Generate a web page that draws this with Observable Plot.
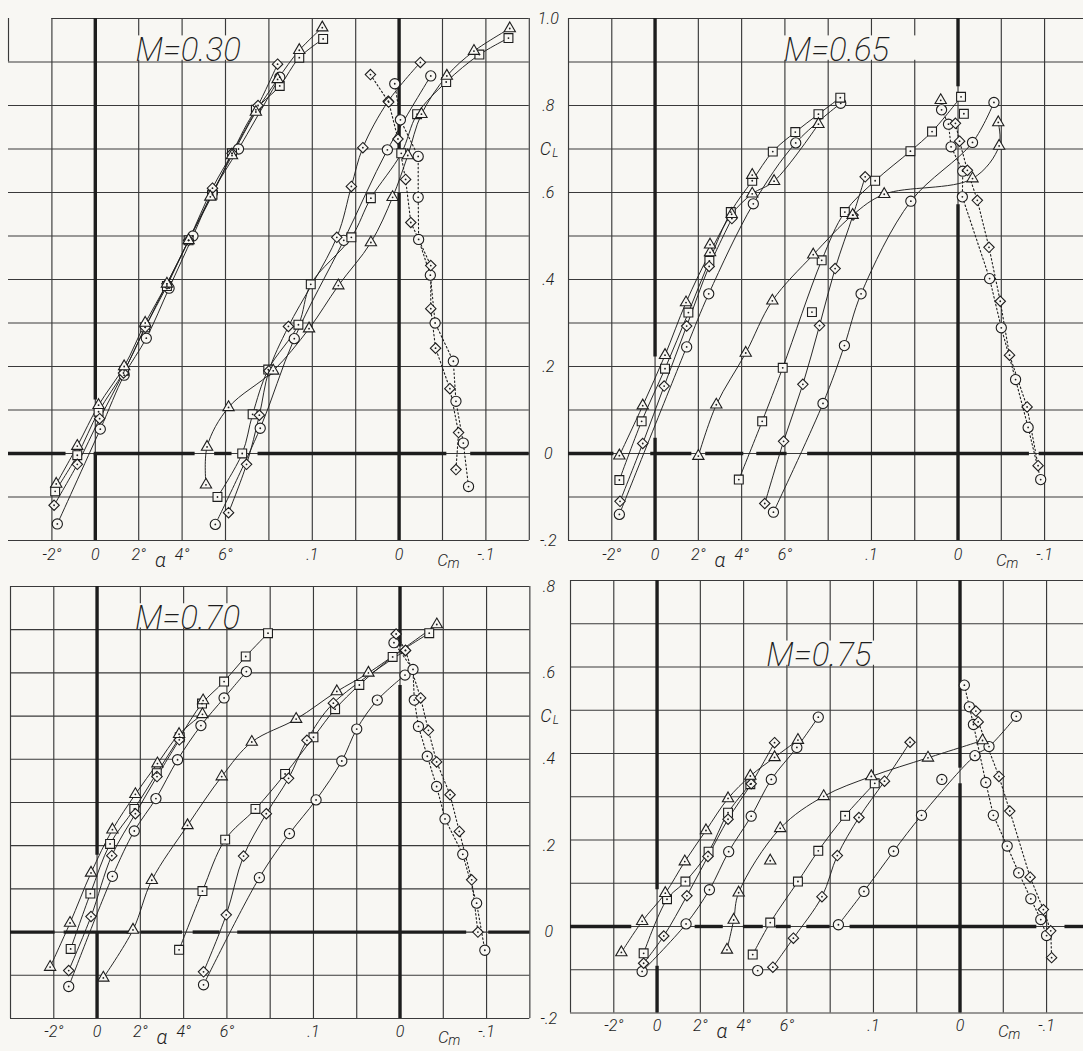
<!DOCTYPE html>
<html>
<head>
<meta charset="utf-8">
<script src="https://cdn.jsdelivr.net/npm/d3@7"></script>
<script src="https://cdn.jsdelivr.net/npm/@observablehq/plot@0.6"></script>
<style>
  html, body { margin: 0; padding: 0; background: #f8f7f3; }
  #page { position: relative; width: 1083px; height: 1051px; overflow: hidden; background: #f8f7f3; }
  #page svg { position: absolute; overflow: visible; }
</style>
</head>
<body>
<div id="page"></div>
<script>
// ---------------- DATA ----------------
// rows: [symbol, x, CL]  symbol: o circle, s square, d diamond, t triangle
// *_alpha : CL vs angle of attack (deg)
// *_shift : second family of CL curves, x in the same degree units of the grid
// *_cm    : CL vs pitching-moment coefficient Cm (dotted curves)

// ---- M = 0.30 ----
const m30_alpha = [
  ["t",-1.8,-0.07],["t",-0.83,0.017],["t",0.15,0.111],["t",1.33,0.2],["t",2.3,0.3],["t",3.3,0.39],["t",4.3,0.49],["t",5.3,0.59],["t",6.3,0.685],["t",7.4,0.785],["t",8.4,0.86],["t",9.4,0.927],["t",10.46,0.979],
  ["s",-1.85,-0.087],["s",-0.83,-0.004],["s",0.15,0.096],["s",1.33,0.19],["s",2.3,0.29],["s",3.3,0.385],["s",4.3,0.49],["s",5.4,0.595],["s",6.3,0.69],["s",7.4,0.79],["s",8.5,0.845],["s",9.4,0.91],["s",10.5,0.953],
  ["d",-1.9,-0.119],["d",-0.83,-0.025],["d",0.2,0.08],["d",1.3,0.185],["d",2.3,0.29],["d",3.3,0.39],["d",4.3,0.49],["d",5.4,0.61],["d",6.3,0.69],["d",7.5,0.8],["d",8.4,0.895],
  ["o",-1.75,-0.162],["o",0.23,0.056],["o",1.33,0.18],["o",2.35,0.265],["o",3.4,0.38],["o",4.5,0.5],["o",5.4,0.6],["o",6.6,0.7],["o",8.5,0.865]
];
const m30_shift = [
  ["t",5.1,-0.072],["t",5.15,0.015],["t",6.14,0.106],["t",8.2,0.19],["t",9.85,0.287],["t",11.2,0.386],["t",12.7,0.485],["t",13.7,0.589],["t",14.4,0.685],["t",15.03,0.78],["t",16.2,0.868],["t",17.45,0.925],["t",19.1,0.977],
  ["s",5.63,-0.1],["s",6.77,0.0],["s",7.25,0.09],["s",7.97,0.193],["s",9.36,0.296],["s",9.93,0.389],["s",11.8,0.497],["s",12.7,0.587],["s",14.1,0.69],["s",14.83,0.78],["s",16.17,0.854],["s",17.7,0.917],["s",19.04,0.955],
  ["d",6.14,-0.136],["d",6.97,-0.025],["d",7.56,0.088],["d",8.0,0.19],["d",8.9,0.292],["d",11.13,0.497],["d",11.8,0.614],["d",12.33,0.703],["d",13.5,0.81],["d",14.98,0.899],
  ["o",5.53,-0.163],["o",7.6,0.058],["o",9.17,0.264],["o",11.45,0.49],["o",13.46,0.698],["o",15.46,0.868]
];
const m30_cm = [
  ["o",0.005,0.85],["o",-0.0015,0.767],["o",-0.022,0.683],["o",-0.022,0.589],["o",-0.0225,0.492],["o",-0.036,0.41],["o",-0.0415,0.3],["o",-0.0625,0.212],["o",-0.0655,0.12],["o",-0.074,0.024],["o",-0.08,-0.076],
  ["d",0.033,0.871],["d",0.012,0.808],["d",0.0013,0.723],["d",-0.0075,0.63],["d",-0.0135,0.531],["d",-0.0365,0.432],["d",-0.0365,0.333],["d",-0.042,0.242],["d",-0.0585,0.149],["d",-0.0685,0.048],["d",-0.0655,-0.037]
];
const m30_extra = [];

// ---- M = 0.65 ----
const m65_alpha = [
  ["t",-1.65,-0.005],["t",-0.57,0.11],["t",0.46,0.226],["t",1.43,0.347],["t",2.54,0.462],["t",3.54,0.55],["t",4.49,0.597],["t",5.5,0.626],["t",7.55,0.757],
  ["s",-1.65,-0.061],["s",-0.62,0.074],["s",0.46,0.195],["s",1.54,0.324],["s",2.51,0.443],["s",3.5,0.555],["s",4.49,0.627],["s",5.44,0.694],["s",6.48,0.739],["s",7.55,0.78],["s",8.56,0.818],
  ["d",-1.62,-0.11],["d",-0.57,0.023],["d",0.42,0.155],["d",1.46,0.293],["d",2.5,0.43],["d",3.55,0.54],
  ["o",-1.65,-0.14],["o",1.46,0.245],["o",2.48,0.367],["o",4.54,0.574],["o",6.5,0.714],["o",8.58,0.805]
];
const m65_shift = [
  ["t",2.0,-0.006],["t",2.83,0.112],["t",4.19,0.231],["t",5.42,0.351],["t",7.31,0.457],["t",9.13,0.548],["t",10.59,0.596],["t",14.67,0.632],["t",15.9,0.707],["t",15.86,0.761],
  ["s",3.87,-0.06],["s",4.95,0.074],["s",5.9,0.197],["s",7.7,0.444],["s",8.77,0.555],["s",10.17,0.627],["s",11.8,0.695],["s",12.8,0.74],["s",14.14,0.82],
  ["d",5.07,-0.115],["d",5.94,0.028],["d",6.83,0.159],["d",7.6,0.294],["d",8.32,0.425],["d",9.15,0.548],["d",9.71,0.636],
  ["o",5.47,-0.135],["o",7.76,0.115],["o",8.75,0.248],["o",9.52,0.367],["o",11.82,0.58],["o",14.67,0.715],["o",15.66,0.807]
];
const m65_cm = [
  ["o",0.019,0.79],["o",0.011,0.757],["o",0.008,0.705],["o",-0.0055,0.649],["o",-0.005,0.59],["o",-0.0365,0.402],["o",-0.05,0.289],["o",-0.0665,0.17],["o",-0.081,0.06],["o",-0.0955,-0.06],
  ["d",0.003,0.759],["d",-0.0018,0.718],["d",-0.0108,0.651],["d",-0.0223,0.582],["d",-0.0358,0.474],["d",-0.0488,0.35],["d",-0.0595,0.226],["d",-0.0798,0.107],["d",-0.0925,-0.028]
];
const m65_extra = [["t",2.54,0.48],["t",4.49,0.64],["s",7.25,0.325],["s",14.27,0.781],["t",13.2,0.812]];

// ---- M = 0.70 ----
const m70_alpha = [
  ["t",-2.17,-0.081],["t",-1.25,0.021],["t",-0.28,0.137],["t",0.71,0.237],["t",1.77,0.319],["t",2.79,0.39],["t",3.79,0.458],["t",4.87,0.504],
  ["s",-1.22,-0.039],["s",-0.31,0.089],["s",0.6,0.204],["s",1.72,0.285],["s",2.76,0.368],["s",3.82,0.451],["s",4.85,0.529],["s",5.87,0.58],["s",6.87,0.638],["s",7.9,0.692],
  ["d",-1.31,-0.089],["d",-0.28,0.036],["d",0.68,0.177],["d",1.77,0.274],["d",2.77,0.36],["d",3.8,0.445],
  ["o",-1.31,-0.126],["o",0.71,0.129],["o",1.72,0.234],["o",2.72,0.309],["o",3.72,0.399],["o",4.8,0.478],["o",5.87,0.542],["o",6.9,0.603]
];
const m70_shift = [
  ["t",0.29,-0.106],["t",1.66,0.005],["t",2.53,0.12],["t",4.18,0.247],["t",5.76,0.36],["t",7.15,0.44],["t",9.2,0.493],["t",11.08,0.557],["t",12.54,0.6],["t",15.7,0.712],
  ["s",3.79,-0.041],["s",4.87,0.095],["s",5.92,0.214],["s",7.32,0.285],["s",8.69,0.366],["s",10.0,0.451],["s",11.0,0.516],["s",12.12,0.572],["s",13.66,0.637],["s",15.35,0.692],
  ["d",4.92,-0.092],["d",5.97,0.04],["d",6.77,0.176],["d",7.82,0.274],["d",8.85,0.356],["d",9.7,0.444],["d",10.92,0.53],["d",14.25,0.652],
  ["o",4.92,-0.122],["o",7.5,0.126],["o",8.89,0.228],["o",10.12,0.306],["o",11.31,0.396],["o",12.0,0.47],["o",12.95,0.537],["o",14.23,0.595]
];
const m70_cm = [
  ["d",0.0045,0.69],["d",-0.0063,0.652],["d",-0.0238,0.542],["d",-0.0328,0.467],["d",-0.0423,0.394],["d",-0.0578,0.318],["d",-0.0685,0.233],["d",-0.0828,0.121],["d",-0.09,0.0],
  ["o",0.007,0.67],["o",-0.015,0.608],["o",-0.0165,0.537],["o",-0.0213,0.476],["o",-0.0315,0.407],["o",-0.0423,0.337],["o",-0.052,0.262],["o",-0.0725,0.18],["o",-0.0885,0.067],["o",-0.098,-0.042]
];
const m70_extra = [["t",4.9,0.536]];

// ---- M = 0.75 ----
const m75_alpha = [
  ["t",-1.65,-0.06],["t",-0.69,0.012],["t",0.38,0.077],["t",1.28,0.15],["t",2.26,0.222],["t",3.28,0.296],["t",4.31,0.348],["t",5.43,0.391],["t",6.51,0.431],
  ["s",-0.62,-0.062],["s",0.46,0.063],["s",1.31,0.104],["s",2.38,0.173],["s",3.28,0.263],["s",4.31,0.329],
  ["d",-0.62,-0.085],["d",0.31,-0.022],["d",1.38,0.071],["d",2.35,0.162],["d",3.28,0.248],["d",4.35,0.33],["d",5.43,0.425],
  ["o",-0.69,-0.104],["o",1.34,0.006],["o",2.42,0.085],["o",3.31,0.173],["o",4.35,0.255],["o",5.28,0.34],["o",6.46,0.414],["o",7.45,0.484]
];
const m75_shift = [
  ["t",3.23,-0.054],["t",3.54,0.015],["t",3.77,0.078],["t",5.69,0.227],["t",7.7,0.301],["t",9.9,0.347],["t",12.52,0.39],["t",15.04,0.43],
  ["s",4.42,-0.065],["s",5.23,0.009],["s",6.51,0.104],["s",7.45,0.175],["s",8.69,0.256],["s",10.06,0.331],
  ["d",5.35,-0.094],["d",6.3,-0.027],["d",7.62,0.069],["d",8.33,0.164],["d",9.33,0.252],["d",10.51,0.336],["d",11.69,0.426],
  ["o",8.38,0.004],["o",9.56,0.081],["o",10.93,0.174],["o",12.22,0.257],["o",14.69,0.395],["o",15.34,0.416],["o",16.6,0.486]
];
const m75_cm = [
  ["o",-0.005,0.558],["o",-0.0108,0.508],["o",-0.0155,0.467],["o",-0.0298,0.333],["o",-0.0385,0.257],["o",-0.0545,0.186],["o",-0.0678,0.124],["o",-0.0818,0.064],["o",-0.0933,0.016],["o",-0.1,-0.021],
  ["d",-0.0183,0.498],["d",-0.021,0.473],["d",-0.045,0.347],["d",-0.0575,0.267],["d",-0.081,0.114],["d",-0.0963,0.039],["d",-0.1048,-0.01],["d",-0.1058,-0.072]
];
const m75_extra = [["t",5.23,0.152],["o",4.65,-0.102],["o",13.16,0.34]];

// Axis tick labels (value on the degree grid)
const xTickLabels = [["-2°",-2],["0",0],["2°",2],["4°",4],["6°",6],[".1",10],["0",14],["-.1",18]];
const yTickTop = [["1.0",1.0],[".8",0.8],[".6",0.6],[".4",0.4],[".2",0.2],["0",0],["-.2",-0.2]];
const yTickBottom = [[".8",0.8],[".6",0.6],[".4",0.4],[".2",0.2],["0",0],["-.2",-0.2]];

// Gaps in the heavy zero lines (ranges in grid units)
const m30_zero = [[-4,-1.35],[-0.05,4.6],[5.5,6.3],[7.5,16.2],[17.3,20]];
const m65_zero = [[-4,-1.9],[-0.2,1.7],[2.34,4.1],[4.7,6.1],[7.05,17.3],[17.75,20]];
const m70_zero = [[-4,-1.94],[-1.52,1.57],[2.03,3.95],[4.44,5.68],[6.5,17.08],[18.1,20]];
const m75_zero = [[-4,-1.17],[1.76,3.06],[3.99,4.91],[5.5,6.2],[6.92,8.0],[8.92,17.55],[18.85,20]];

// ---------------- DRAWING ----------------
const INK = "#1d1d1d", GRID = "#3a3a3a", PAPER = "#f8f7f3";
const FONT = "Roboto, 'Open Sans', 'DejaVu Sans', sans-serif";
const cmToGrid = c => 14 - 40 * c;   // Cm = 0 at grid 14, 0.1 per two cells, positive to the left

function panel(cfg) {
  const {alpha, shift, cm, extra, zero, axA, axC, yMax, title, left, top, pxDeg, pxUnit, yTicks, clAt, cornerCut, showY, tickDy} = cfg;
  const mL = 14, mR = 50, mT = 14, mB = 46;
  const W = 24 * pxDeg, H = (yMax + 0.2) * pxUnit;
  const cmRows = cm.map(([s, c, y]) => [s, cmToGrid(c), y]);
  const all = [...alpha, ...shift, ...cmRows, ...extra];
  const xs = d3.range(-4, 21, 2);
  const ys = d3.range(-2, Math.round(yMax * 10) + 1).map(v => v / 10);
  const X = d => d[1], Y = d => d[2];
  const bySym = k => all.filter(d => d[0] === k);
  const txt = {fontFamily: FONT, fontStyle: "italic", fontWeight: 300, fill: INK};
  const marks = [
    Plot.ruleX(xs, {x: d => d, y1: d => (cornerCut && d === -4) ? yMax - 0.1 : -0.2, y2: yMax, stroke: GRID, strokeWidth: 1.15}),
    Plot.ruleY(ys, {y: d => d, x1: d => (cornerCut && d === yMax) ? -2 : -4, x2: 20, stroke: GRID, strokeWidth: 1.15}),
    Plot.rect([title], {x1: d => d.a0, x2: d => d.a1, y1: d => d.cl + 0.004, y2: d => d.cl + 0.06, fill: PAPER}),
    Plot.text([title], {x: d => d.a0 + 0.15, y: d => d.cl, text: d => d.text, textAnchor: "start", lineAnchor: "bottom", dy: -1, fontSize: 33, ...txt, fontWeight: 200}),
    Plot.ruleY(zero, {y: () => 0, x1: d => d[0], x2: d => d[1], stroke: INK, strokeWidth: 3.4}),
    Plot.ruleX(axA, {x: () => 0, y1: d => d[0], y2: d => d[1], stroke: INK, strokeWidth: 3.4}),
    Plot.ruleX(axC, {x: () => 14, y1: d => d[0], y2: d => d[1], stroke: INK, strokeWidth: 3.4}),
    Plot.line(alpha, {x: X, y: Y, z: d => d[0], curve: "catmull-rom", stroke: INK, strokeWidth: 0.95}),
    Plot.line(shift, {x: X, y: Y, z: d => d[0], curve: "catmull-rom", stroke: INK, strokeWidth: 0.95}),
    Plot.line(cmRows, {x: X, y: Y, z: d => d[0], curve: "linear", stroke: INK, strokeWidth: 1.1, strokeDasharray: "1.6,2.4"}),
    Plot.dot(bySym("o"), {x: X, y: Y, r: 5.1, symbol: "circle", fill: PAPER, stroke: INK, strokeWidth: 1.1}),
    Plot.dot(bySym("s"), {x: X, y: Y, r: 5.0, symbol: "square", fill: PAPER, stroke: INK, strokeWidth: 1.1}),
    Plot.dot(bySym("d"), {x: X, y: Y, r: 4.7, symbol: "diamond2", fill: PAPER, stroke: INK, strokeWidth: 1.1}),
    Plot.dot(bySym("t"), {x: X, y: Y, r: 4.2, symbol: "triangle", fill: PAPER, stroke: INK, strokeWidth: 1.1}),
    Plot.dot(all, {x: X, y: Y, r: 0.9, fill: INK}),
    Plot.text(xTickLabels, {x: d => d[1], y: () => -0.2, dy: tickDy, text: d => d[0], fontSize: 16, ...txt}),
    Plot.text(["α"], {x: () => 3.0, y: () => -0.2, dy: tickDy + 6, text: d => d, fontSize: 20, ...txt}),
    Plot.text(["C"], {x: () => 16.0, y: () => -0.2, dy: tickDy + 6, text: d => d, fontSize: 17, ...txt}),
    Plot.text(["m"], {x: () => 16.0, y: () => -0.2, dy: tickDy + 9, dx: 11, text: d => d, fontSize: 14, ...txt})
  ];
  if (showY) {
    marks.push(
      Plot.text(yTicks, {x: () => 20, y: d => d[1], dx: 19, text: d => d[0], fontSize: 16, ...txt}),
      Plot.text(["C"], {x: () => 20, y: () => clAt, dx: 16, text: d => d, fontSize: 18, ...txt}),
      Plot.text(["L"], {x: () => 20, y: () => clAt, dx: 26, dy: 4, text: d => d, fontSize: 12, ...txt})
    );
  }
  const svg = Plot.plot({
    width: W + mL + mR, height: H + mT + mB,
    marginLeft: mL, marginRight: mR, marginTop: mT, marginBottom: mB,
    x: {domain: [-4, 20], axis: null},
    y: {domain: [-0.2, yMax], axis: null},
    style: {background: "transparent", overflow: "visible"},
    marks
  });
  svg.style.left = (left - mL) + "px";
  svg.style.top = (top - mT) + "px";
  document.getElementById("page").appendChild(svg);
}

panel({alpha: m30_alpha, shift: m30_shift, cm: m30_cm, extra: m30_extra, zero: m30_zero,
  axA: [[0.123, 1.0], [-0.2, 0]], axC: [[0.693, 1.0], [-0.2, 0.598]],
  yMax: 1.0, title: {text: "M=0.30", a0: 1.7, a1: 7.8, cl: 0.9},
  left: 8.2, top: 18, pxDeg: 21.7, pxUnit: 435, yTicks: yTickTop, clAt: 0.7, cornerCut: true, showY: true, tickDy: 14});

panel({alpha: m65_alpha, shift: m65_shift, cm: m65_cm, extra: m65_extra, zero: m65_zero,
  axA: [[0.222, 1.0], [-0.2, 0.035]], axC: [[0.843, 1.0], [-0.2, 0.572]],
  yMax: 1.0, title: {text: "M=0.65", a0: 5.8, a1: 12.3, cl: 0.9},
  left: 568.4, top: 17.5, pxDeg: 21.64, pxUnit: 435, yTicks: yTickTop, clAt: 0.7, cornerCut: false, showY: false, tickDy: 14});

panel({alpha: m70_alpha, shift: m70_shift, cm: m70_cm, extra: m70_extra, zero: m70_zero,
  axA: [[0.178, 0.8], [-0.2, 0]], axC: [[0.66, 0.8], [-0.2, 0.571]],
  yMax: 0.8, title: {text: "M=0.70", a0: 1.6, a1: 7.8, cl: 0.7},
  left: 10.4, top: 586, pxDeg: 21.64, pxUnit: 432, yTicks: yTickBottom, clAt: 0.5, cornerCut: false, showY: true, tickDy: 13});

panel({alpha: m75_alpha, shift: m75_shift, cm: m75_cm, extra: m75_extra, zero: m75_zero,
  axA: [[0.085, 0.8], [-0.2, -0.092]], axC: [[0.366, 0.8], [-0.2, 0.33]],
  yMax: 0.8, title: {text: "M=0.75", a0: 4.9, a1: 11.3, cl: 0.6},
  left: 570.4, top: 580, pxDeg: 21.64, pxUnit: 432.5, yTicks: yTickBottom, clAt: 0.5, cornerCut: false, showY: false, tickDy: 13});
</script>
</body>
</html>
